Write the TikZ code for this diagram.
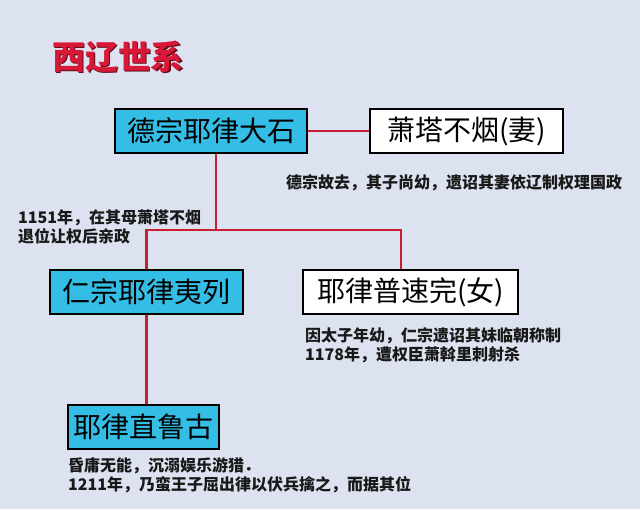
\documentclass[tikz,border=0pt]{standalone}
\usepackage{fontspec}
\newfontfamily\cjk{Noto Sans CJK SC}
\usetikzlibrary{calc}
\definecolor{bgcol}{RGB}{221,226,240}
\definecolor{boxcyan}{RGB}{52,190,230}
\definecolor{linered}{RGB}{200,30,50}
\definecolor{titlered}{RGB}{215,25,55}
\tikzset{
	person/.style={draw=black,line width=1.6pt,minimum height=44pt,inner sep=0pt,font=\cjk\fontsize{28}{30}\selectfont},
	king/.style={person,fill=boxcyan},
	spouse/.style={person,fill=white},
	note/.style={anchor=west,align=left,inner sep=0pt,text=black!90,font=\cjk\bfseries\fontsize{16}{19}\selectfont},
	link/.style={linered,line width=2.4pt},
}

\begin{document}
\begin{tikzpicture}[x=1pt,y=-1pt]
		\fill[bgcol] (0,0) rectangle (640,509);
		\useasboundingbox (0,0) rectangle (640,509);
		% title
		\node[font=\cjk\bfseries\fontsize{33}{36}\selectfont,text=black!55!titlered] (titleshadow) at (119.5,58.5) {西辽世系};
		\node[font=\cjk\bfseries\fontsize{33}{36}\selectfont,text=titlered] (title) at (118,57) {西辽世系};
		% people
		\node[king,minimum width=192pt] (dashi) at (211,131) {德宗耶律大石};
		\node[spouse,minimum width=193pt] (tabuyan) at (466.5,131) {萧塔不烟(妻)};
		\node[king,minimum width=193pt] (yilie) at (146.5,292) {仁宗耶律夷列};
		\node[spouse,minimum width=215pt] (pusuwan) at (410.5,292) {耶律普速完(女)};
		\node[king,minimum width=151pt] (zhilugu) at (143.5,427) {耶律直鲁古};
		% lines
		\coordinate (fork) at (216,230);
		\coordinate (sister) at (401,230);
		\draw[link] (dashi.east) -- (tabuyan.west);
		\draw[link] (dashi.south -| fork) -- (fork);
		\draw[link] (yilie.north) |- (sister) -- (sister |- pusuwan.north);
		\draw[link] (yilie.south) -- (yilie.south |- zhilugu.north);
		% notes
		\node[note] (notedashi) at (286,183) {德宗故去，其子尚幼，遗诏其妻依辽制权理国政};
		\node[note] (noteyilie) at (18,226.5) {1151年，在其母萧塔不烟\\退位让权后亲政};
		\node[note] (notepusuwan) at (305,345) {因太子年幼，仁宗遗诏其妹临朝称制\\1178年，遭权臣萧斡里刺射杀};
		\node[note] (notezhilugu) at (68,475) {昏庸无能，沉溺娱乐游猎．\\1211年，乃蛮王子屈出律以伏兵擒之，而据其位};
	\end{tikzpicture}
\end{document}
